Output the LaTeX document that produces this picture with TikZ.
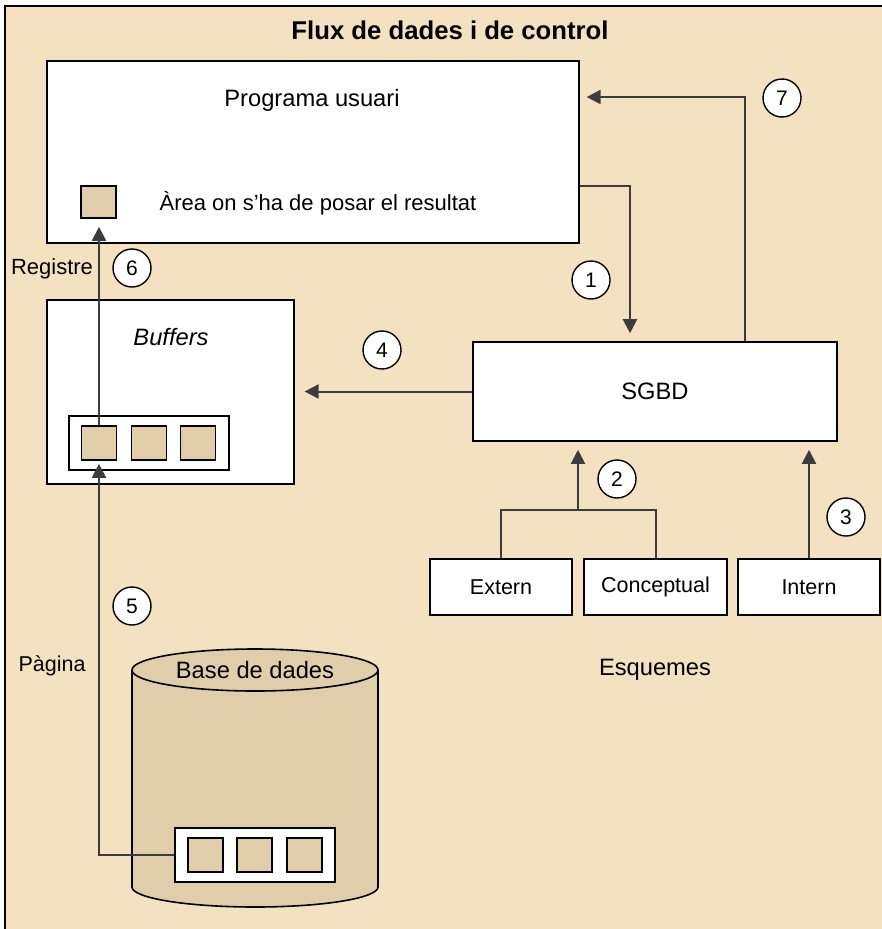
\documentclass[tikz,border=0pt]{standalone}
\usepackage{fontspec}
\setmainfont{Liberation Sans}
\usetikzlibrary{arrows.meta,positioning}

\definecolor{fonsbeix}{HTML}{F4E1C1}
\definecolor{caixabeix}{HTML}{E1CDAA}
\definecolor{liniagris}{HTML}{3C3C3C}

\tikzset{
  caixa/.style={draw, line width=1.6pt, fill=white, inner sep=0pt,
    font=\fontsize{21.5}{24}\selectfont},
  quadret/.style={draw, line width=1.6pt, fill=caixabeix, inner sep=0pt,
    minimum width=35pt, minimum height=34pt},
  numero/.style={draw, circle, line width=1.4pt, fill=white, inner sep=0pt,
    minimum size=38pt, font=\fontsize{21}{21}\selectfont},
  rotul/.style={font=\fontsize{22}{24}\selectfont},
  gran/.style={font=\fontsize{23.7}{26}\selectfont},
  linia/.style={line width=2pt, draw=liniagris},
  fletxa/.style={line width=2pt, draw=liniagris,
    -{Triangle[length=14pt,width=14pt]}},
}

\begin{document}
\begin{tikzpicture}[x=1pt,y=-1pt]

\useasboundingbox (0,0) rectangle (881,929);
\fill[white] (0,0) rectangle (881,929);
\fill[fonsbeix] (5,6) rectangle (890,940);
\draw[line width=1.6pt]
  (5,940) -- (5,6) -- (890,6);

\node[font=\bfseries\fontsize{25.7}{28}\selectfont] (titol) at (450,30)
  {Flux de dades i de control};

\node[caixa, anchor=north west, minimum width=532pt, minimum height=182pt]
  (programa) at (46,60) {};
\node[gran] (progtext) at (312,100) {Programa usuari};
\node[quadret, minimum height=32pt] (area) at (98.5,202) {};
\node[rotul] (areatext) at (318,203) {Àrea on s’ha de posar el resultat};

\node[caixa, anchor=north west, minimum width=247pt, minimum height=184pt]
  (buffers) at (46,299) {};
\node[font=\itshape\fontsize{23.7}{26}\selectfont] (buftext) at (171,337) {Buffers};
\node[caixa, minimum width=160pt, minimum height=54pt] (bufin) at (149,443) {};
\node[quadret] (buf1) at (99,443) {};
\node[quadret] (buf2) at (149,443) {};
\node[quadret] (buf3) at (198,443) {};

\node[caixa, gran, minimum width=364pt, minimum height=99pt] (sgbd) at (655,391.5) {SGBD};

\node[caixa, minimum width=142pt, minimum height=56pt] (extern) at (501,587) {Extern};
\node[caixa, minimum width=143pt, minimum height=56pt] (conceptual) at (655.5,587) {Conceptual};
\node[caixa, minimum width=142pt, minimum height=56pt] (intern) at (809,587) {Intern};
\node[gran] (esquemes) at (655,670) {Esquemes};

\fill[caixabeix]
  (132,670) -- (132,887)
  arc[start angle=180, end angle=360, x radius=123pt, y radius=20pt]
  -- (378,670) -- cycle;
\draw[line width=1.6pt]
  (132,670) -- (132,887)
  arc[start angle=180, end angle=360, x radius=123pt, y radius=20pt]
  -- (378,670);
\draw[line width=1.6pt, fill=caixabeix]
  (255,670) ellipse[x radius=123pt, y radius=21pt];
\node[gran] (basetext) at (255,670) {Base de dades};
\node[caixa, minimum width=160pt, minimum height=54pt] (dbin) at (255,855) {};
\node[quadret] (db1) at (205.5,855) {};
\node[quadret] (db2) at (254.5,855) {};
\node[quadret] (db3) at (304.5,855) {};

\node[rotul] (registre) at (52,269) {Registre};
\node[font=\fontsize{21.5}{24}\selectfont] (pagina) at (52,666) {Pàgina};

\coordinate (branca) at (578,510);

\draw[fletxa, shorten >=8pt]
  ([yshift=-34pt]programa.east) -| ([xshift=-25pt]sgbd.north);
\draw[linia]
  (extern.north) |- (branca) -| (conceptual.north);
\draw[fletxa, shorten >=8pt]
  (branca) -- (branca |- sgbd.south);
\draw[fletxa, shorten >=8pt]
  (intern.north) -- (intern.north |- sgbd.south);
\draw[fletxa, shorten >=10pt]
  (sgbd.west) -- (sgbd.west -| buffers.east);
\draw[fletxa, shorten >=3pt]
  (dbin.west) -| (buf1.south);
\draw[fletxa, shorten >=8pt]
  (buf1.north) -- (buf1.north |- area.south);
\draw[fletxa, shorten >=7pt]
  ([xshift=90pt]sgbd.north) |- ([yshift=-37pt]programa.north east);

\node[numero] (n1) at (591,280) {1};
\node[numero] (n2) at (617,479) {2};
\node[numero] (n3) at (846,517) {3};
\node[numero] (n4) at (382,350) {4};
\node[numero] (n5) at (132,606) {5};
\node[numero] (n6) at (132,268) {6};
\node[numero] (n7) at (782,98) {7};

\end{tikzpicture}
\end{document}
